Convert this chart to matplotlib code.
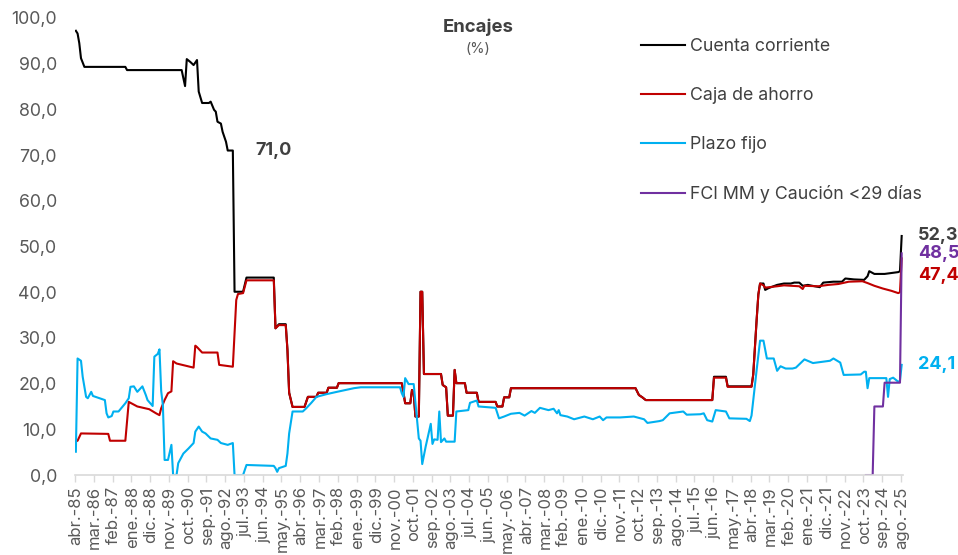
import numpy as np
import matplotlib
matplotlib.use('Agg')
import matplotlib.pyplot as plt

plt.rcParams['font.family'] = ['Inter', 'DejaVu Sans']

# Categorias: meses de abr.-85 a ago.-25 (485 meses)
meses_es = ['ene.', 'feb.', 'mar.', 'abr.', 'may.', 'jun.',
            'jul.', 'ago.', 'sep.', 'oct.', 'nov.', 'dic.']
n_meses = 485
categorias = [f"{meses_es[(3 + i) % 12]}-{(1985 + (3 + i) // 12) % 100:02d}"
              for i in range(n_meses)]

# Series (indice de mes, valor %)
cc_idx = [0, 1, 2, 3, 5, 29, 30, 62, 64, 65, 67, 69, 71, 72, 74, 78, 79, 81, 82,
          83, 85, 86, 88, 89, 92, 93, 98, 100, 116, 117, 119, 123, 124, 125, 127,
          134, 135, 136, 141, 142, 147, 148, 153, 154, 191, 192, 193, 196, 197,
          198, 199, 201, 202, 203, 204, 214, 215, 217, 218, 221, 222, 223, 228,
          229, 235, 236, 246, 247, 250, 251, 254, 255, 328, 330, 332, 334, 373,
          374, 381, 382, 396, 397, 398, 399, 400,
          401, 403, 404, 406, 411, 415, 419, 421, 424, 426, 429, 433, 436, 438,
          444, 449, 451, 456, 462, 464, 465, 468, 474, 478, 482, 483, 484]
cc_val = [97.2, 96.6, 94.5, 91.2, 89.3, 89.3, 88.6, 88.6, 85.1, 91.0, 90.4, 89.7,
          90.8, 83.9, 81.4, 81.4, 81.7, 79.9, 79.5, 77.3, 76.9, 75.1, 72.9, 71.0,
          71.0, 40.1, 40.1, 43.2, 43.2, 32.1, 33.0, 33.0, 27.4, 18.0, 14.9,
          14.9, 16.0, 17.1, 17.1, 18.0, 18.0, 19.1, 19.1, 20.1, 20.1, 18.0, 15.7,
          15.7, 18.6, 18.0, 12.8, 12.8, 40.1, 40.1, 22.1, 22.1, 19.7, 19.2, 13.0,
          13.0, 23.0, 20.1, 20.1, 18.0, 18.0, 16.0, 16.0, 15.0, 15.0, 17.0, 17.0,
          19.0, 19.0, 17.5, 17.0, 16.4, 16.4, 21.5, 21.5, 19.4, 19.4, 22.0, 28.0,
          34.0, 39.5,
          41.9, 41.9, 40.5, 40.9, 41.6, 41.9, 41.9, 42.1, 42.1, 41.4, 41.6, 41.3,
          41.1, 42.1, 42.3, 42.3, 43.0, 42.8, 42.7, 43.5, 44.6, 44.0, 44.0, 44.2,
          44.4, 44.6, 52.3]

ca_idx = [0, 1, 3, 19, 20, 29, 31, 36, 43, 47, 49, 50, 52, 54, 56, 57, 59, 69,
          70, 71, 74, 83, 84, 92, 93, 94, 95, 98, 100, 116, 117, 119, 123, 124,
          125, 127,
          134, 135, 136, 141, 142, 147, 148, 153, 154, 191, 192, 193, 196, 197,
          198, 199, 201, 202, 203, 204, 214, 215, 217, 218, 221, 222, 223, 228,
          229, 235, 236, 246, 247, 250, 251, 254, 255, 328, 330, 332, 334, 373,
          374, 381, 382, 396, 397, 398, 399, 400,
          401, 403, 404, 411, 415, 424, 426, 427, 435, 441, 447, 453, 461, 464,
          468, 473, 478, 482, 483, 484]
ca_val = [7.4, 7.5, 9.1, 9.0, 7.5, 7.5, 16.0, 15.0, 14.4, 13.5, 13.1, 14.6, 16.4,
          17.9, 18.3, 24.9, 24.4, 23.5, 28.3, 28.0, 26.8, 26.8, 24.1, 23.7, 31.0,
          38.3, 39.6, 39.8, 42.6, 42.6, 32.1, 32.8, 32.8, 27.4, 18.0, 14.9,
          14.9, 16.0, 17.1, 17.1, 18.0, 18.0, 19.1, 19.1, 20.1, 20.1, 18.0, 15.7,
          15.7, 18.6, 18.0, 12.8, 12.8, 40.1, 40.1, 22.1, 22.1, 19.7, 19.2, 13.0,
          13.0, 23.0, 20.1, 20.1, 18.0, 18.0, 16.0, 16.0, 15.0, 15.0, 17.0, 17.0,
          19.0, 19.0, 17.5, 17.0, 16.4, 16.4, 21.3, 21.3, 19.3, 19.3, 22.0, 28.0,
          34.0, 39.5,
          41.9, 41.5, 41.0, 41.3, 41.5, 41.3, 40.7, 41.4, 41.3, 41.6, 41.8, 42.3,
          42.4, 42.0, 41.4, 40.8, 40.3, 39.8, 40.0, 47.4]

pf_idx = [0, 1, 3, 4, 6, 7, 9, 10, 14, 17, 18, 19, 21, 22, 25, 29, 31, 32, 34,
          36, 38, 39, 41, 42, 45, 46, 48, 49, 50, 51, 52, 54, 56, 57, 59, 60, 63,
          66, 68, 69, 70, 72, 74, 76, 79, 83, 85, 89, 92, 93, 98, 100, 116, 117,
          118, 119, 123, 124, 125, 127, 133, 135, 138, 141, 147, 153, 163, 167,
          190, 191, 192, 193, 195, 198, 200, 201, 202, 203, 205, 208, 209, 210,
          212, 213, 214, 216, 217, 222, 223, 230, 231, 235, 236, 246, 248, 251,
          255, 260, 263, 267, 269, 272, 277, 280, 282, 283, 284, 288, 292, 298,
          303, 307, 309, 311, 319, 327, 333, 335, 342, 344, 348, 356, 358, 366,
          368, 370, 373, 375, 381, 383, 393, 395, 396, 399, 401, 403, 405, 409,
          411, 413, 416, 420, 422, 427, 432, 438, 442, 444, 448, 450, 460, 462,
          463, 464, 465, 475, 476, 477, 479, 482, 483, 484]
pf_val = [5.1, 25.5, 25.0, 21.5, 17.1, 16.8, 18.2, 17.3, 16.8, 16.4, 13.5, 12.6,
          12.9, 13.9, 13.9, 15.7, 16.8, 19.3, 19.4, 18.2, 19.0, 19.4, 17.5, 16.4,
          15.1, 25.9, 26.5, 27.5, 18.4, 15.3, 3.3, 3.3, 6.6, 0.0, 0.0, 2.6, 4.7,
          5.8, 6.6, 7.0, 9.5, 10.6, 9.5, 9.1, 8.0, 7.7, 7.0, 6.6, 7.0, 0.0, 0.0,
          2.2, 2.0, 1.5, 0.7, 1.5, 2.0, 4.7, 9.1, 13.9, 13.9, 14.6, 15.8, 17.1,
          17.7, 18.2, 19.0, 19.2, 19.2, 17.9, 17.1, 21.2, 19.9, 19.9, 12.0, 8.0,
          7.5, 2.4, 6.2, 11.2, 6.8, 7.8, 7.7, 13.9, 7.2, 8.0, 7.3, 7.3, 13.9,
          14.2, 15.8, 16.3, 15.0, 14.7, 12.4, 12.8, 13.4, 13.6, 13.0, 14.0, 13.6,
          14.7, 14.2, 14.5, 13.5, 14.2, 13.1, 12.8, 12.2, 12.8, 12.2, 12.8, 12.0,
          12.6, 12.6, 12.8, 12.2, 11.4, 11.8, 12.0, 13.5, 13.9, 13.2, 13.3, 13.5,
          12.0, 11.7, 14.2, 13.9, 12.4, 12.3, 11.8, 13.0, 23.0, 29.4, 29.4, 25.5,
          25.5, 22.8, 23.8, 23.3, 23.3, 23.5, 25.3, 24.5, 24.8, 25.0, 25.5, 24.6,
          21.9, 22.0, 22.6, 22.6, 19.0, 21.2, 21.2, 17.1, 21.0, 21.3, 20.4, 20.6,
          24.1]

fci_idx = [463, 467, 468, 473, 474, 483, 484]
fci_val = [0.0, 0.0, 15.0, 15.0, 20.2, 20.2, 48.5]

series = [
    ('Cuenta corriente', cc_idx, cc_val, '#000000'),
    ('Caja de ahorro', ca_idx, ca_val, '#C00000'),
    ('Plazo fijo', pf_idx, pf_val, '#00B0F0'),
    ('FCI MM y Caución <29 días', fci_idx, fci_val, '#7030A0'),
]

fig = plt.figure(figsize=(9.58, 5.55), dpi=100)
ax = fig.add_axes([0.0783, 0.1441, 0.8638, 0.8235])

for name, xi, yv, col in series:
    ax.plot(xi, yv, color=col, lw=1.5, label=name, solid_joinstyle='round')

ax.set_xlim(-0.5, n_meses - 0.5)
ax.set_ylim(0, 100)

# eje y
yt = np.arange(0, 101, 10)
ax.set_yticks(yt)
ax.set_yticklabels([f"{v:.1f}".replace('.', ',') for v in yt])
ax.tick_params(axis='y', length=0, pad=13, labelsize=12.8, labelcolor='#595959')

# eje x: etiquetas cada 11 meses
pos = np.arange(0, n_meses, 11)
ax.set_xticks(pos)
ax.set_xticklabels([categorias[i] for i in pos], rotation=90)
ax.set_xticks(pos - 0.5, minor=True)
ax.tick_params(axis='x', which='major', length=0, pad=8, labelsize=12,
               labelcolor='#595959')
ax.tick_params(axis='x', which='minor', length=5, width=1, color='#D9D9D9')

for s in ['top', 'right', 'left']:
    ax.spines[s].set_visible(False)
ax.spines['bottom'].set_color('#D9D9D9')
ax.spines['bottom'].set_linewidth(1.2)

# titulo
fig.text(0.499, 0.950, 'Encajes', ha='center', va='center', fontsize=13.3,
         fontweight='bold', color='#404040')
fig.text(0.499, 0.911, '(%)', ha='center', va='center', fontsize=10.5,
         color='#595959')

# leyenda
ax.legend(loc='upper left', bbox_to_anchor=(0.669, 0.932),
          bbox_transform=fig.transFigure, frameon=False, fontsize=12.8,
          handlelength=2.47, handletextpad=0.28, labelspacing=1.8,
          borderpad=0, borderaxespad=0, labelcolor='#404040')

# etiquetas de valores
ax.annotate('71,0', xy=(92, 71.0), xytext=(16, 0), textcoords='offset points',
            ha='left', va='center', fontsize=13, fontweight='bold',
            color='#404040')
ult = n_meses - 1
etiquetas = [('52,3', cc_val[-1], 0, '#404040'),
             ('48,5', fci_val[-1], 0, '#7030A0'),
             ('47,4', ca_val[-1], -12, '#C00000'),
             ('24,1', pf_val[-1], 0, '#00B0F0')]
for txt, v, dy, col in etiquetas:
    ax.annotate(txt, xy=(ult, v), xytext=(12, dy), textcoords='offset points',
                ha='left', va='center', fontsize=13, fontweight='bold',
                color=col, annotation_clip=False)

fig.savefig('out.png', dpi=100)
